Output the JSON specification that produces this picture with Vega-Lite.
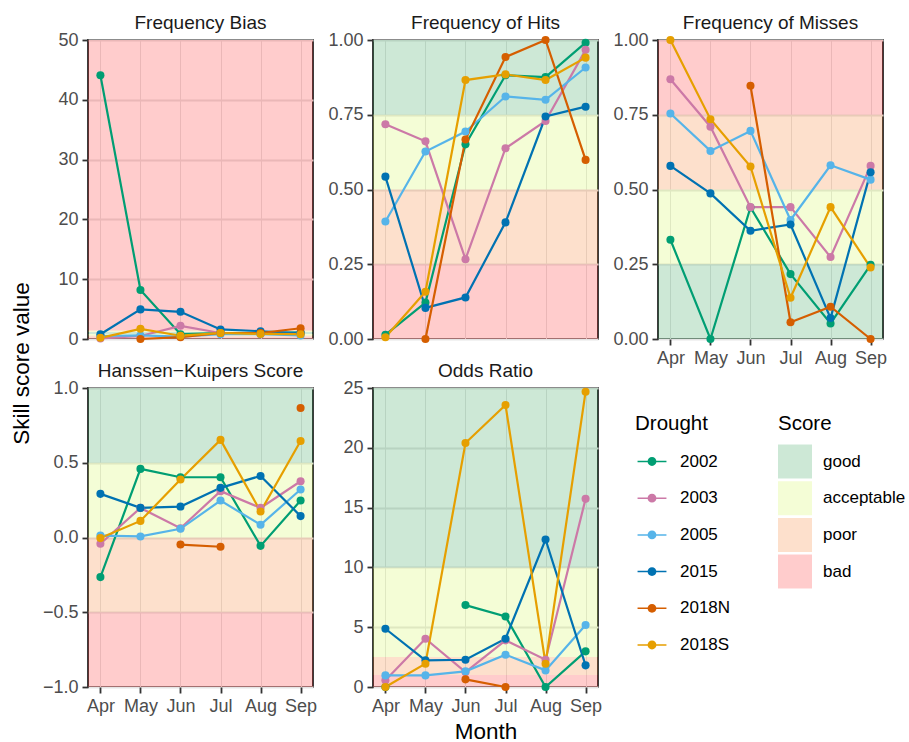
{
  "$schema": "https://vega.github.io/schema/vega-lite/v6.json",
  "padding": {"left": 10, "top": 13, "right": 5, "bottom": 0},
  "background": "white",
  "datasets": {
    "scores": [
      {"s":"B","m":"Apr","d":"2002","v":44.1},{"s":"B","m":"May","d":"2002","v":8.2},{"s":"B","m":"Jun","d":"2002","v":0.8},{"s":"B","m":"Jul","d":"2002","v":1.0},{"s":"B","m":"Aug","d":"2002","v":0.9},{"s":"B","m":"Sep","d":"2002","v":1.1},
      {"s":"B","m":"Apr","d":"2003","v":0.1},{"s":"B","m":"May","d":"2003","v":0.5},{"s":"B","m":"Jun","d":"2003","v":2.2},{"s":"B","m":"Jul","d":"2003","v":1.0},{"s":"B","m":"Aug","d":"2003","v":0.9},{"s":"B","m":"Sep","d":"2003","v":1.0},
      {"s":"B","m":"Apr","d":"2005","v":0.5},{"s":"B","m":"May","d":"2005","v":0.6},{"s":"B","m":"Jun","d":"2005","v":0.4},{"s":"B","m":"Jul","d":"2005","v":0.8},{"s":"B","m":"Aug","d":"2005","v":0.8},{"s":"B","m":"Sep","d":"2005","v":0.6},
      {"s":"B","m":"Apr","d":"2015","v":0.8},{"s":"B","m":"May","d":"2015","v":4.95},{"s":"B","m":"Jun","d":"2015","v":4.55},{"s":"B","m":"Jul","d":"2015","v":1.6},{"s":"B","m":"Aug","d":"2015","v":1.3},{"s":"B","m":"Sep","d":"2015","v":1.0},
      {"s":"B","m":"May","d":"2018N","v":0},{"s":"B","m":"Jun","d":"2018N","v":0.3},{"s":"B","m":"Jul","d":"2018N","v":1.0},{"s":"B","m":"Aug","d":"2018N","v":1.0},{"s":"B","m":"Sep","d":"2018N","v":1.8},
      {"s":"B","m":"Apr","d":"2018S","v":0.2},{"s":"B","m":"May","d":"2018S","v":1.7},{"s":"B","m":"Jun","d":"2018S","v":0.55},{"s":"B","m":"Jul","d":"2018S","v":1.0},{"s":"B","m":"Aug","d":"2018S","v":0.85},{"s":"B","m":"Sep","d":"2018S","v":0.8},

      {"s":"H","m":"Apr","d":"2002","v":0.014},{"s":"H","m":"May","d":"2002","v":0.122},{"s":"H","m":"Jun","d":"2002","v":0.651},{"s":"H","m":"Jul","d":"2002","v":0.882},{"s":"H","m":"Aug","d":"2002","v":0.876},{"s":"H","m":"Sep","d":"2002","v":0.991},
      {"s":"H","m":"Apr","d":"2003","v":0.718},{"s":"H","m":"May","d":"2003","v":0.661},{"s":"H","m":"Jun","d":"2003","v":0.267},{"s":"H","m":"Jul","d":"2003","v":0.638},{"s":"H","m":"Aug","d":"2003","v":0.729},{"s":"H","m":"Sep","d":"2003","v":0.967},
      {"s":"H","m":"Apr","d":"2005","v":0.393},{"s":"H","m":"May","d":"2005","v":0.627},{"s":"H","m":"Jun","d":"2005","v":0.694},{"s":"H","m":"Jul","d":"2005","v":0.811},{"s":"H","m":"Aug","d":"2005","v":0.80},{"s":"H","m":"Sep","d":"2005","v":0.908},
      {"s":"H","m":"Apr","d":"2015","v":0.543},{"s":"H","m":"May","d":"2015","v":0.104},{"s":"H","m":"Jun","d":"2015","v":0.139},{"s":"H","m":"Jul","d":"2015","v":0.39},{"s":"H","m":"Aug","d":"2015","v":0.744},{"s":"H","m":"Sep","d":"2015","v":0.777},
      {"s":"H","m":"May","d":"2018N","v":0},{"s":"H","m":"Jun","d":"2018N","v":0.667},{"s":"H","m":"Jul","d":"2018N","v":0.943},{"s":"H","m":"Aug","d":"2018N","v":1.0},{"s":"H","m":"Sep","d":"2018N","v":0.599},
      {"s":"H","m":"Apr","d":"2018S","v":0.006},{"s":"H","m":"May","d":"2018S","v":0.158},{"s":"H","m":"Jun","d":"2018S","v":0.866},{"s":"H","m":"Jul","d":"2018S","v":0.885},{"s":"H","m":"Aug","d":"2018S","v":0.866},{"s":"H","m":"Sep","d":"2018S","v":0.941},

      {"s":"M","m":"Apr","d":"2002","v":0.332},{"s":"M","m":"May","d":"2002","v":0},{"s":"M","m":"Jun","d":"2002","v":0.44},{"s":"M","m":"Jul","d":"2002","v":0.217},{"s":"M","m":"Aug","d":"2002","v":0.052},{"s":"M","m":"Sep","d":"2002","v":0.248},
      {"s":"M","m":"Apr","d":"2003","v":0.869},{"s":"M","m":"May","d":"2003","v":0.71},{"s":"M","m":"Jun","d":"2003","v":0.441},{"s":"M","m":"Jul","d":"2003","v":0.441},{"s":"M","m":"Aug","d":"2003","v":0.274},{"s":"M","m":"Sep","d":"2003","v":0.579},
      {"s":"M","m":"Apr","d":"2005","v":0.754},{"s":"M","m":"May","d":"2005","v":0.629},{"s":"M","m":"Jun","d":"2005","v":0.696},{"s":"M","m":"Jul","d":"2005","v":0.398},{"s":"M","m":"Aug","d":"2005","v":0.581},{"s":"M","m":"Sep","d":"2005","v":0.533},
      {"s":"M","m":"Apr","d":"2015","v":0.579},{"s":"M","m":"May","d":"2015","v":0.487},{"s":"M","m":"Jun","d":"2015","v":0.362},{"s":"M","m":"Jul","d":"2015","v":0.383},{"s":"M","m":"Aug","d":"2015","v":0.07},{"s":"M","m":"Sep","d":"2015","v":0.558},
      {"s":"M","m":"Jun","d":"2018N","v":0.847},{"s":"M","m":"Jul","d":"2018N","v":0.056},{"s":"M","m":"Aug","d":"2018N","v":0.108},{"s":"M","m":"Sep","d":"2018N","v":0},
      {"s":"M","m":"Apr","d":"2018S","v":1.0},{"s":"M","m":"May","d":"2018S","v":0.735},{"s":"M","m":"Jun","d":"2018S","v":0.577},{"s":"M","m":"Jul","d":"2018S","v":0.138},{"s":"M","m":"Aug","d":"2018S","v":0.441},{"s":"M","m":"Sep","d":"2018S","v":0.239},

      {"s":"K","m":"Apr","d":"2002","v":-0.265},{"s":"K","m":"May","d":"2002","v":0.459},{"s":"K","m":"Jun","d":"2002","v":0.403},{"s":"K","m":"Jul","d":"2002","v":0.403},{"s":"K","m":"Aug","d":"2002","v":-0.056},{"s":"K","m":"Sep","d":"2002","v":0.247},
      {"s":"K","m":"Apr","d":"2003","v":-0.042},{"s":"K","m":"May","d":"2003","v":0.198},{"s":"K","m":"Jun","d":"2003","v":0.062},{"s":"K","m":"Jul","d":"2003","v":0.31},{"s":"K","m":"Aug","d":"2003","v":0.198},{"s":"K","m":"Sep","d":"2003","v":0.376},
      {"s":"K","m":"Apr","d":"2005","v":0.013},{"s":"K","m":"May","d":"2005","v":0.007},{"s":"K","m":"Jun","d":"2005","v":0.058},{"s":"K","m":"Jul","d":"2005","v":0.247},{"s":"K","m":"Aug","d":"2005","v":0.085},{"s":"K","m":"Sep","d":"2005","v":0.321},
      {"s":"K","m":"Apr","d":"2015","v":0.292},{"s":"K","m":"May","d":"2015","v":0.198},{"s":"K","m":"Jun","d":"2015","v":0.207},{"s":"K","m":"Jul","d":"2015","v":0.332},{"s":"K","m":"Aug","d":"2015","v":0.412},{"s":"K","m":"Sep","d":"2015","v":0.143},
      {"s":"K","m":"Jun","d":"2018N","v":-0.047},{"s":"K","m":"Jul","d":"2018N","v":-0.062},{"s":"K","m":"Aug","d":"2018N","v":null},{"s":"K","m":"Sep","d":"2018N","v":0.866},
      {"s":"K","m":"Apr","d":"2018S","v":-0.004},{"s":"K","m":"May","d":"2018S","v":0.111},{"s":"K","m":"Jun","d":"2018S","v":0.388},{"s":"K","m":"Jul","d":"2018S","v":0.653},{"s":"K","m":"Aug","d":"2018S","v":0.174},{"s":"K","m":"Sep","d":"2018S","v":0.646},

      {"s":"O","m":"Apr","d":"2002","v":0},{"s":"O","m":"May","d":"2002","v":null},{"s":"O","m":"Jun","d":"2002","v":6.85},{"s":"O","m":"Jul","d":"2002","v":5.9},{"s":"O","m":"Aug","d":"2002","v":0},{"s":"O","m":"Sep","d":"2002","v":2.98},
      {"s":"O","m":"Apr","d":"2003","v":0.56},{"s":"O","m":"May","d":"2003","v":4.04},{"s":"O","m":"Jun","d":"2003","v":1.25},{"s":"O","m":"Jul","d":"2003","v":3.9},{"s":"O","m":"Aug","d":"2003","v":2.28},{"s":"O","m":"Sep","d":"2003","v":15.73},
      {"s":"O","m":"Apr","d":"2005","v":0.97},{"s":"O","m":"May","d":"2005","v":0.97},{"s":"O","m":"Jun","d":"2005","v":1.31},{"s":"O","m":"Jul","d":"2005","v":2.7},{"s":"O","m":"Aug","d":"2005","v":1.39},{"s":"O","m":"Sep","d":"2005","v":5.18},
      {"s":"O","m":"Apr","d":"2015","v":4.87},{"s":"O","m":"May","d":"2015","v":2.23},{"s":"O","m":"Jun","d":"2015","v":2.28},{"s":"O","m":"Jul","d":"2015","v":4.04},{"s":"O","m":"Aug","d":"2015","v":12.33},{"s":"O","m":"Sep","d":"2015","v":1.81},
      {"s":"O","m":"Jun","d":"2018N","v":0.64},{"s":"O","m":"Jul","d":"2018N","v":0},
      {"s":"O","m":"Apr","d":"2018S","v":0},{"s":"O","m":"May","d":"2018S","v":1.95},{"s":"O","m":"Jun","d":"2018S","v":20.4},{"s":"O","m":"Jul","d":"2018S","v":23.58},{"s":"O","m":"Aug","d":"2018S","v":1.95},{"s":"O","m":"Sep","d":"2018S","v":24.69}
    ],
    "bands": [
      {"s":"B","c":"bad","y1":0,"y2":0.3},{"s":"B","c":"poor","y1":0.3,"y2":0.6},{"s":"B","c":"acceptable","y1":0.6,"y2":0.85},{"s":"B","c":"good","y1":0.85,"y2":1.15},{"s":"B","c":"acceptable","y1":1.15,"y2":1.3},{"s":"B","c":"poor","y1":1.3,"y2":1.5},{"s":"B","c":"bad","y1":1.5,"y2":50},
      {"s":"H","c":"bad","y1":0,"y2":0.25},{"s":"H","c":"poor","y1":0.25,"y2":0.5},{"s":"H","c":"acceptable","y1":0.5,"y2":0.75},{"s":"H","c":"good","y1":0.75,"y2":1},
      {"s":"M","c":"good","y1":0,"y2":0.25},{"s":"M","c":"acceptable","y1":0.25,"y2":0.5},{"s":"M","c":"poor","y1":0.5,"y2":0.75},{"s":"M","c":"bad","y1":0.75,"y2":1},
      {"s":"K","c":"bad","y1":-1,"y2":-0.5},{"s":"K","c":"poor","y1":-0.5,"y2":0},{"s":"K","c":"acceptable","y1":0,"y2":0.5},{"s":"K","c":"good","y1":0.5,"y2":1},
      {"s":"O","c":"bad","y1":0,"y2":1},{"s":"O","c":"poor","y1":1,"y2":2.5},{"s":"O","c":"acceptable","y1":2.5,"y2":10},{"s":"O","c":"good","y1":10,"y2":25}
    ]
  },
  "columns": 3,
  "bounds": "flush",
  "spacing": {"row": 49, "column": 60},
  "resolve": {
    "scale": {"x": "independent", "y": "independent", "color": "independent", "fill": "independent"},
    "legend": {"color": "independent", "fill": "independent"}
  },
  "concat": [
    {
      "title": "Frequency Bias", "width": 225, "height": 299,
      "layer": [
        {"data": {"name": "bands"}, "transform": [{"filter": "datum.s === 'B'"}],
         "mark": {"type": "rect", "opacity": 0.2},
         "encoding": {
           "y": {"field": "y1", "type": "quantitative", "scale": {"domain": [0, 50], "nice": false, "zero": false},
                 "axis": {"title": "Skill score value", "titleY": 323, "titlePadding": 24, "values": [0,5,10,15,20,25,30,35,40,45,50], "labelOverlap": false,
                          "labelExpr": "datum.value % 10 === 0 ? datum.label : ''",
                          "tickOpacity": {"condition": {"test": "datum.value % 10 !== 0", "value": 0}, "value": 1},
                          "gridWidth": {"condition": {"test": "datum.value % 10 !== 0", "value": 1}, "value": 1.9}}},
           "y2": {"field": "y2"},
           "fill": {"field": "c", "type": "nominal", "scale": {"domain": ["good","acceptable","poor","bad"], "range": ["#058C32","#C8F532","#F56400","#FF0000"]}, "legend": null}
         }},
        {"data": {"name": "scores"}, "transform": [{"filter": "datum.s === 'B'"}],
         "mark": {"type": "line", "strokeWidth": 2.2, "invalid": "break-paths-filter-domains"},
         "encoding": {
           "x": {"field": "m", "type": "ordinal", "scale": {"type": "point", "domain": ["Apr","May","Jun","Jul","Aug","Sep"], "padding": 0.31}, "axis": {"title": null, "labels": false, "ticks": false}},
           "y": {"field": "v", "type": "quantitative"},
           "color": {"field": "d", "type": "nominal", "scale": {"domain": ["2002","2003","2005","2015","2018N","2018S"], "range": ["#009E73","#CC79A7","#56B4E9","#0072B2","#D55E00","#E69F00"]}, "legend": null}
         }},
        {"data": {"name": "scores"}, "transform": [{"filter": "datum.s === 'B'"}],
         "mark": {"type": "point", "filled": true, "opacity": 1, "size": 65},
         "encoding": {
           "x": {"field": "m", "type": "ordinal"},
           "y": {"field": "v", "type": "quantitative"},
           "color": {"field": "d", "type": "nominal", "legend": null}
         }}
      ]
    },
    {
      "title": "Frequency of Hits", "width": 225, "height": 299,
      "layer": [
        {"data": {"name": "bands"}, "transform": [{"filter": "datum.s === 'H'"}],
         "mark": {"type": "rect", "opacity": 0.2},
         "encoding": {
           "y": {"field": "y1", "type": "quantitative", "scale": {"domain": [0, 1], "nice": false, "zero": false},
                 "axis": {"title": null, "values": [0,0.125,0.25,0.375,0.5,0.625,0.75,0.875,1], "labelOverlap": false, "format": ".2f",
                          "labelExpr": "(datum.value * 4) % 1 === 0 ? datum.label : ''",
                          "tickOpacity": {"condition": {"test": "(datum.value * 4) % 1 !== 0", "value": 0}, "value": 1},
                          "gridWidth": {"condition": {"test": "(datum.value * 4) % 1 !== 0", "value": 1}, "value": 1.9}}},
           "y2": {"field": "y2"},
           "fill": {"field": "c", "type": "nominal", "scale": {"domain": ["good","acceptable","poor","bad"], "range": ["#058C32","#C8F532","#F56400","#FF0000"]}, "legend": null}
         }},
        {"data": {"name": "scores"}, "transform": [{"filter": "datum.s === 'H'"}],
         "mark": {"type": "line", "strokeWidth": 2.2, "invalid": "break-paths-filter-domains"},
         "encoding": {
           "x": {"field": "m", "type": "ordinal", "scale": {"type": "point", "domain": ["Apr","May","Jun","Jul","Aug","Sep"], "padding": 0.31}, "axis": {"title": null, "labels": false, "ticks": false}},
           "y": {"field": "v", "type": "quantitative"},
           "color": {"field": "d", "type": "nominal", "scale": {"domain": ["2002","2003","2005","2015","2018N","2018S"], "range": ["#009E73","#CC79A7","#56B4E9","#0072B2","#D55E00","#E69F00"]}, "legend": null}
         }},
        {"data": {"name": "scores"}, "transform": [{"filter": "datum.s === 'H'"}],
         "mark": {"type": "point", "filled": true, "opacity": 1, "size": 65},
         "encoding": {
           "x": {"field": "m", "type": "ordinal"},
           "y": {"field": "v", "type": "quantitative"},
           "color": {"field": "d", "type": "nominal", "legend": null}
         }}
      ]
    },
    {
      "title": "Frequency of Misses", "width": 225, "height": 299,
      "layer": [
        {"data": {"name": "bands"}, "transform": [{"filter": "datum.s === 'M'"}],
         "mark": {"type": "rect", "opacity": 0.2},
         "encoding": {
           "y": {"field": "y1", "type": "quantitative", "scale": {"domain": [0, 1], "nice": false, "zero": false},
                 "axis": {"title": null, "values": [0,0.125,0.25,0.375,0.5,0.625,0.75,0.875,1], "labelOverlap": false, "format": ".2f",
                          "labelExpr": "(datum.value * 4) % 1 === 0 ? datum.label : ''",
                          "tickOpacity": {"condition": {"test": "(datum.value * 4) % 1 !== 0", "value": 0}, "value": 1},
                          "gridWidth": {"condition": {"test": "(datum.value * 4) % 1 !== 0", "value": 1}, "value": 1.9}}},
           "y2": {"field": "y2"},
           "fill": {"field": "c", "type": "nominal", "scale": {"domain": ["good","acceptable","poor","bad"], "range": ["#058C32","#C8F532","#F56400","#FF0000"]}, "legend": null}
         }},
        {"data": {"name": "scores"}, "transform": [{"filter": "datum.s === 'M'"}],
         "mark": {"type": "line", "strokeWidth": 2.2, "invalid": "break-paths-filter-domains"},
         "encoding": {
           "x": {"field": "m", "type": "ordinal", "scale": {"type": "point", "domain": ["Apr","May","Jun","Jul","Aug","Sep"], "padding": 0.31}, "axis": {"title": null, "labelAngle": 0}},
           "y": {"field": "v", "type": "quantitative"},
           "color": {"field": "d", "type": "nominal", "scale": {"domain": ["2002","2003","2005","2015","2018N","2018S"], "range": ["#009E73","#CC79A7","#56B4E9","#0072B2","#D55E00","#E69F00"]}, "legend": null}
         }},
        {"data": {"name": "scores"}, "transform": [{"filter": "datum.s === 'M'"}],
         "mark": {"type": "point", "filled": true, "opacity": 1, "size": 65},
         "encoding": {
           "x": {"field": "m", "type": "ordinal"},
           "y": {"field": "v", "type": "quantitative"},
           "color": {"field": "d", "type": "nominal", "legend": null}
         }}
      ]
    },
    {
      "title": "Hanssen\u2212Kuipers Score", "width": 225, "height": 299,
      "layer": [
        {"data": {"name": "bands"}, "transform": [{"filter": "datum.s === 'K'"}],
         "mark": {"type": "rect", "opacity": 0.2},
         "encoding": {
           "y": {"field": "y1", "type": "quantitative", "scale": {"domain": [-1, 1], "nice": false, "zero": false},
                 "axis": {"title": null, "values": [-1,-0.75,-0.5,-0.25,0,0.25,0.5,0.75,1], "labelOverlap": false, "format": ".1f",
                          "labelExpr": "(datum.value * 2) % 1 === 0 ? datum.label : ''",
                          "tickOpacity": {"condition": {"test": "(datum.value * 2) % 1 !== 0", "value": 0}, "value": 1},
                          "gridWidth": {"condition": {"test": "(datum.value * 2) % 1 !== 0", "value": 1}, "value": 1.9}}},
           "y2": {"field": "y2"},
           "fill": {"field": "c", "type": "nominal", "scale": {"domain": ["good","acceptable","poor","bad"], "range": ["#058C32","#C8F532","#F56400","#FF0000"]}, "legend": null}
         }},
        {"data": {"name": "scores"}, "transform": [{"filter": "datum.s === 'K'"}],
         "mark": {"type": "line", "strokeWidth": 2.2, "invalid": "break-paths-filter-domains"},
         "encoding": {
           "x": {"field": "m", "type": "ordinal", "scale": {"type": "point", "domain": ["Apr","May","Jun","Jul","Aug","Sep"], "padding": 0.31}, "axis": {"title": null, "labelAngle": 0}},
           "y": {"field": "v", "type": "quantitative"},
           "color": {"field": "d", "type": "nominal", "scale": {"domain": ["2002","2003","2005","2015","2018N","2018S"], "range": ["#009E73","#CC79A7","#56B4E9","#0072B2","#D55E00","#E69F00"]}, "legend": null}
         }},
        {"data": {"name": "scores"}, "transform": [{"filter": "datum.s === 'K' && datum.v != null"}],
         "mark": {"type": "point", "filled": true, "opacity": 1, "size": 65},
         "encoding": {
           "x": {"field": "m", "type": "ordinal"},
           "y": {"field": "v", "type": "quantitative"},
           "color": {"field": "d", "type": "nominal", "legend": null}
         }}
      ]
    },
    {
      "title": "Odds Ratio", "width": 225, "height": 299,
      "layer": [
        {"data": {"name": "bands"}, "transform": [{"filter": "datum.s === 'O'"}],
         "mark": {"type": "rect", "opacity": 0.2},
         "encoding": {
           "y": {"field": "y1", "type": "quantitative", "scale": {"domain": [0, 25], "nice": false, "zero": false},
                 "axis": {"title": null, "values": [0,2.5,5,7.5,10,12.5,15,17.5,20,22.5,25], "labelOverlap": false, "format": "d",
                          "labelExpr": "datum.value % 5 === 0 ? datum.label : ''",
                          "tickOpacity": {"condition": {"test": "datum.value % 5 !== 0", "value": 0}, "value": 1},
                          "gridWidth": {"condition": {"test": "datum.value % 5 !== 0", "value": 1}, "value": 1.9}}},
           "y2": {"field": "y2"},
           "fill": {"field": "c", "type": "nominal", "title": "Score", "scale": {"domain": ["good","acceptable","poor","bad"], "range": ["#058C32","#C8F532","#F56400","#FF0000"]},
                    "legend": {"orient": "none", "legendX": 405, "legendY": 26, "symbolType": "square", "symbolSize": 1156, "symbolOpacity": 0.2, "symbolStrokeWidth": 0, "rowPadding": 2.7}}
         }},
        {"data": {"name": "scores"}, "transform": [{"filter": "datum.s === 'O'"}],
         "mark": {"type": "line", "strokeWidth": 2.2, "invalid": "break-paths-filter-domains"},
         "encoding": {
           "x": {"field": "m", "type": "ordinal", "scale": {"type": "point", "domain": ["Apr","May","Jun","Jul","Aug","Sep"], "padding": 0.31}, "axis": {"title": "Month", "labelAngle": 0, "titlePadding": 5}},
           "y": {"field": "v", "type": "quantitative"},
           "color": {"field": "d", "type": "nominal", "title": "Drought", "scale": {"domain": ["2002","2003","2005","2015","2018N","2018S"], "range": ["#009E73","#CC79A7","#56B4E9","#0072B2","#D55E00","#E69F00"]},
                     "legend": {"orient": "none", "legendX": 262, "legendY": 26, "symbolType": "M-0.85,-0.045H0.85V0.045H-0.85Z M0.26,0A0.26,0.26 0 1,1 -0.26,0A0.26,0.26 0 1,1 0.26,0Z", "symbolSize": 1156, "symbolStrokeWidth": 0, "rowPadding": 11.7}}
         }},
        {"data": {"name": "scores"}, "transform": [{"filter": "datum.s === 'O' && datum.v != null"}],
         "mark": {"type": "point", "filled": true, "opacity": 1, "size": 65},
         "encoding": {
           "x": {"field": "m", "type": "ordinal"},
           "y": {"field": "v", "type": "quantitative"},
           "color": {"field": "d", "type": "nominal", "title": "Drought",
                     "legend": {"orient": "none", "legendX": 262, "legendY": 26, "symbolType": "M-0.85,-0.045H0.85V0.045H-0.85Z M0.26,0A0.26,0.26 0 1,1 -0.26,0A0.26,0.26 0 1,1 0.26,0Z", "symbolSize": 1156, "symbolStrokeWidth": 0, "rowPadding": 11.7}}
         }}
      ]
    }
  ],
  "config": {
    "font": "Liberation Sans",
    "view": {"stroke": "#333333", "strokeWidth": 1.9},
    "axis": {"labelFont": "Liberation Sans", "labelFontSize": 18, "labelColor": "#4D4D4D", "tickColor": "#333333", "tickSize": 6, "tickWidth": 1.8, "domain": false, "grid": true, "gridColor": "#E5E5E5", "labelPadding": 4, "titleFont": "Liberation Sans", "titleFontSize": 22.5, "titleFontWeight": "normal", "titleColor": "#000000"},
    "title": {"font": "Liberation Sans", "fontSize": 19, "fontWeight": "normal", "color": "#1A1A1A", "offset": -2, "anchor": "middle", "frame": "group"},
    "legend": {"titleFont": "Liberation Sans", "titleFontSize": 20.5, "titleFontWeight": "normal", "titleColor": "#000000", "labelFont": "Liberation Sans", "labelFontSize": 17, "labelColor": "#000000", "labelOffset": 11, "titlePadding": 10, "padding": 0, "symbolOpacity": 1}
  }
}
